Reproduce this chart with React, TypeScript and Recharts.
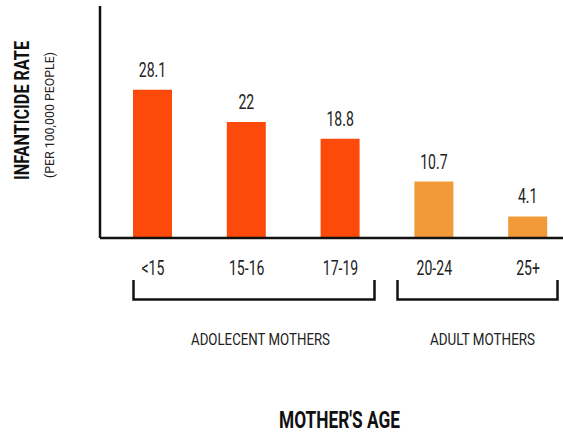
import { BarChart, Bar, XAxis, YAxis, Cell, LabelList } from "recharts"

const ages = ["<15", "15-16", "17-19", "20-24", "25+"]
const rates = [28.1, 22, 18.8, 10.7, 4.1]
const groups = ["adolescent", "adolescent", "adolescent", "adult", "adult"]

const groupColors: Record<string, string> = {
  adolescent: "#fd4a0b",
  adult: "#f29a38",
}

const data = ages.map((age, i) => ({ age, rate: rates[i], group: groups[i] }))

const font = "Roboto, 'Noto Sans', sans-serif"
const squeeze = 0.72

// the original uses a condensed face, so squeeze Roboto horizontally
function AgeTick(props: any) {
  const { x, y, payload } = props
  return (
    <text
      transform={`translate(${x},${y + 31}) scale(${squeeze},1)`}
      textAnchor="middle"
      fontSize={19.5}
      fill="#222"
      fontFamily={font}
    >
      {payload.value}
    </text>
  )
}

function RateLabel(props: any) {
  const { x, y, width, value } = props
  return (
    <text
      transform={`translate(${x + width / 2},${y - 13}) scale(${squeeze},1)`}
      textAnchor="middle"
      fontSize={19.5}
      fill="#222"
      fontFamily={font}
    >
      {value}
    </text>
  )
}

function Annotations() {
  return (
    <svg
      width={563}
      height={434}
      style={{ position: "absolute", left: 0, top: 0, pointerEvents: "none" }}
    >
      {/* bracket under the adolescent ages */}
      <path d="M133.5,280 V299.5 H374.5 V280" fill="none" stroke="#111" strokeWidth={2.5} />
      {/* bracket under the adult ages */}
      <path d="M397.5,280 V299.5 H557.5 V280" fill="none" stroke="#111" strokeWidth={2.5} />
      <text
        x={260.5}
        y={345}
        textAnchor="middle"
        fontSize={16.5}
        fill="#222"
        fontFamily={font}
        textLength={139}
        lengthAdjust="spacingAndGlyphs"
      >
        ADOLECENT MOTHERS
      </text>
      <text
        x={482.5}
        y={345}
        textAnchor="middle"
        fontSize={16.5}
        fill="#222"
        fontFamily={font}
        textLength={105}
        lengthAdjust="spacingAndGlyphs"
      >
        ADULT MOTHERS
      </text>
      <text
        x={339.5}
        y={428}
        textAnchor="middle"
        fontSize={23}
        fontWeight="bold"
        fill="#111"
        fontFamily={font}
        textLength={121}
        lengthAdjust="spacingAndGlyphs"
      >
        MOTHER'S AGE
      </text>
      <text
        transform="translate(29,110.5) rotate(-90)"
        textAnchor="middle"
        fontSize={19.5}
        fontWeight="bold"
        fill="#111"
        fontFamily={font}
        textLength={139}
        lengthAdjust="spacingAndGlyphs"
      >
        INFANTICIDE RATE
      </text>
      <text
        transform="translate(54,115) rotate(-90)"
        textAnchor="middle"
        fontSize={12}
        fill="#222"
        fontFamily={font}
        textLength={126}
        lengthAdjust="spacingAndGlyphs"
      >
        (PER 100,000 PEOPLE)
      </text>
    </svg>
  )
}

export default function App() {
  return (
    <div style={{ position: "absolute", left: 0, top: 0, width: 563, height: 434, background: "#fff" }}>
      <BarChart
        width={563}
        height={434}
        data={data}
        margin={{ top: 6, right: -12, left: 99, bottom: 166 }}
      >
        <XAxis
          dataKey="age"
          height={30}
          padding={{ left: 6, right: 0 }}
          axisLine={{ stroke: "#111", strokeWidth: 2.5 }}
          tickLine={false}
          tickMargin={0}
          tick={<AgeTick />}
          interval={0}
        />
        <YAxis
          width={1}
          domain={[0, 44]}
          tick={false}
          tickLine={false}
          axisLine={{ stroke: "#111", strokeWidth: 2.5 }}
        />
        <Bar dataKey="rate" barSize={39} isAnimationActive={false}>
          {data.map((d) => (
            <Cell key={d.age} fill={groupColors[d.group]} />
          ))}
          <LabelList dataKey="rate" content={<RateLabel />} />
        </Bar>
      </BarChart>
      <Annotations />
    </div>
  )
}
